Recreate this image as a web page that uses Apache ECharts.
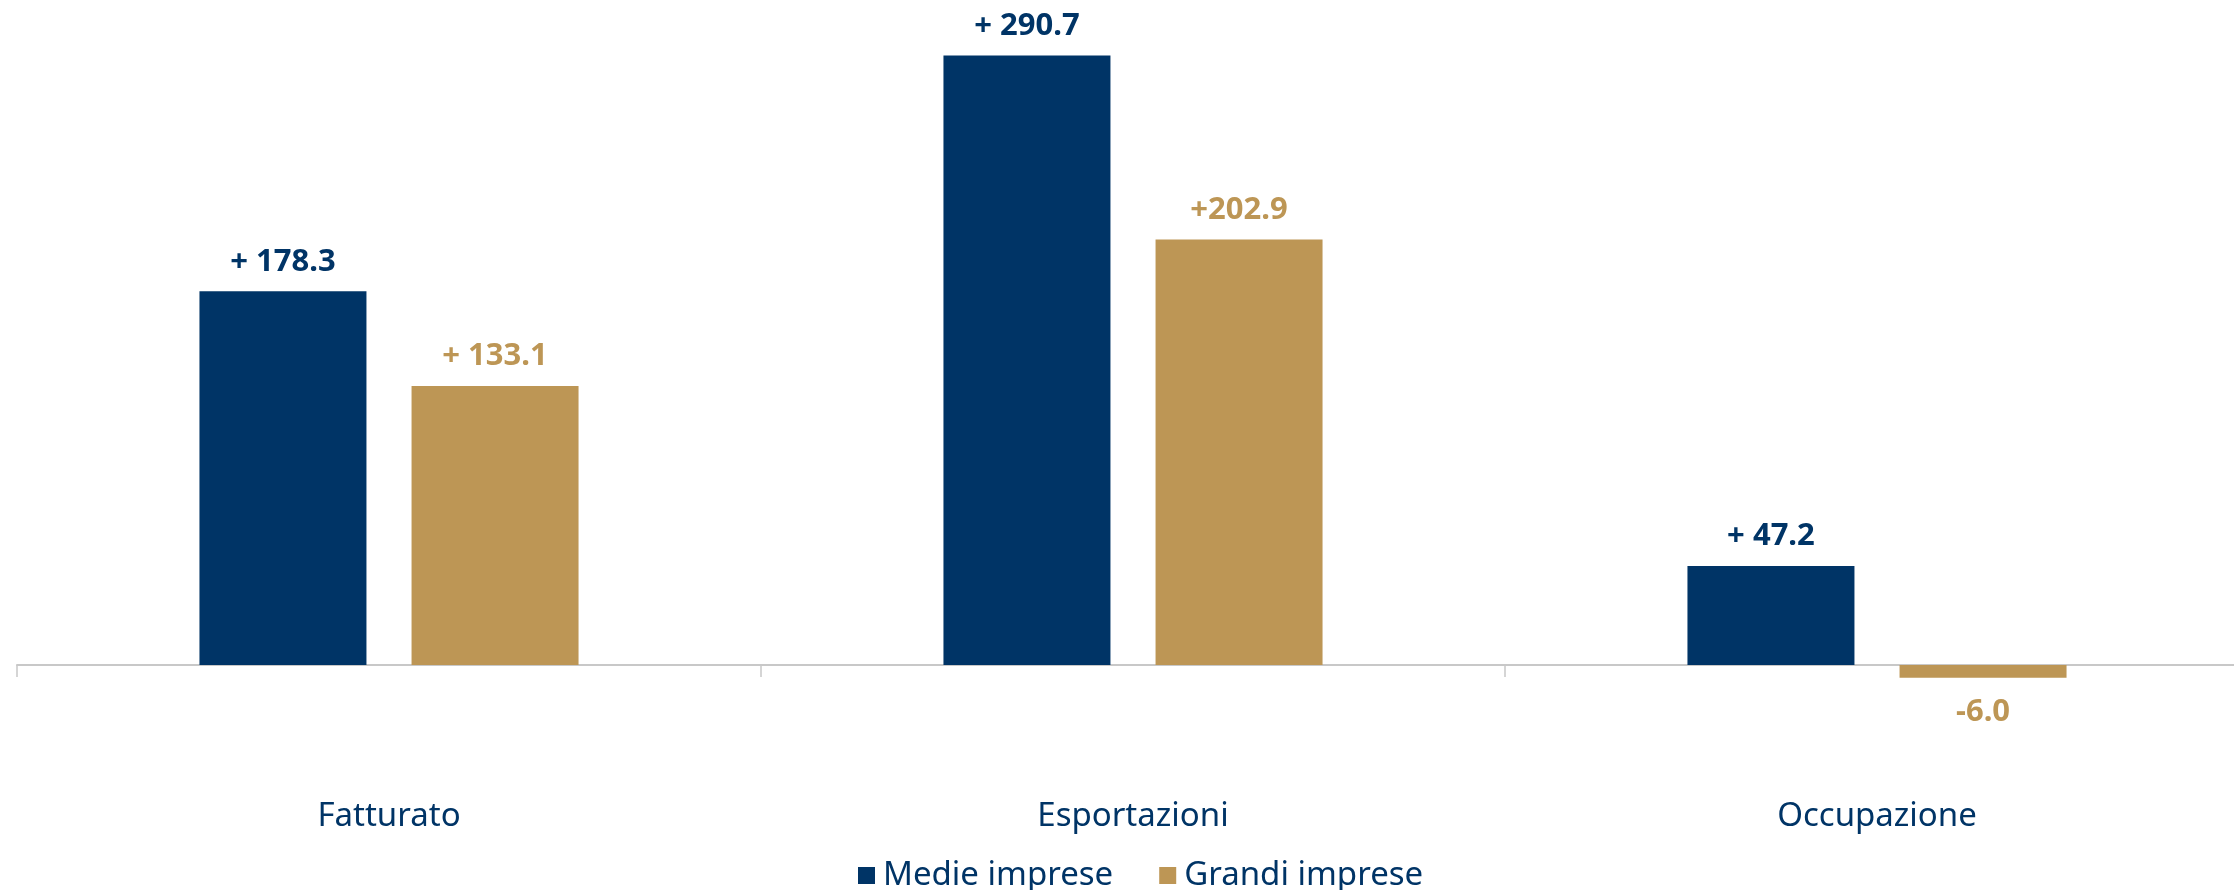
<!DOCTYPE html>
<html>
<head>
<meta charset="utf-8">
<script src="https://cdn.jsdelivr.net/npm/echarts@6/dist/echarts.min.js"></script>
<style>html,body{margin:0;padding:0;background:#fff}#c{width:2234px;height:890px}</style>
</head>
<body>
<div id="c"></div>
<script>
const categories = ['Fatturato', 'Esportazioni', 'Occupazione'];
const seriesNames = ['Medie imprese', 'Grandi imprese'];
const medieValues = [178.3, 290.7, 47.2];
const grandiValues = [133.1, 202.9, -6.0];
const medieLabels = ['+ 178.3', '+ 290.7', '+ 47.2'];
const grandiLabels = ['+ 133.1', '+202.9', '-6.0'];

const BLUE = '#003466';
const GOLD = '#BD9655';
const FONT = 'Noto Sans';

function buildData(values, labels) {
  return values.map((v, i) => ({
    value: v,
    label: v < 0
      ? { position: 'bottom', distance: 19, formatter: labels[i] }
      : { position: 'top', formatter: labels[i] }
  }));
}

const chart = echarts.init(document.getElementById('c'));
chart.setOption({
  backgroundColor: '#ffffff',
  animation: false,
  textStyle: { fontFamily: FONT },
  legend: {
    data: seriesNames,
    left: 853,
    top: 854,
    itemWidth: 17,
    itemHeight: 17,
    itemGap: 46,
    icon: 'rect',
    textStyle: { color: BLUE, fontSize: 33, fontFamily: FONT, padding: [0, 0, 0, 3] }
  },
  grid: { left: 17, right: -15, top: 36, height: 671, containLabel: false, outerBoundsMode: 'none' },
  xAxis: {
    type: 'category',
    data: categories,
    axisLine: { onZero: true, lineStyle: { color: '#C8C8C8', width: 2 } },
    axisTick: { show: true, length: 12, lineStyle: { color: '#C8C8C8', width: 1.5 } },
    axisLabel: { color: BLUE, fontSize: 33, fontFamily: FONT, margin: 93 },
    splitLine: { show: false }
  },
  yAxis: {
    type: 'value',
    min: -20,
    max: 300,
    show: false,
    splitLine: { show: false }
  },
  series: [
    {
      name: seriesNames[0],
      type: 'bar',
      barWidth: 167,
      barGap: '27%',
      itemStyle: { color: BLUE },
      label: { show: true, color: BLUE, fontWeight: 'bold', fontSize: 31, fontFamily: FONT, distance: 14 },
      data: buildData(medieValues, medieLabels)
    },
    {
      name: seriesNames[1],
      type: 'bar',
      barWidth: 167,
      barGap: '27%',
      itemStyle: { color: GOLD },
      label: { show: true, color: GOLD, fontWeight: 'bold', fontSize: 31, fontFamily: FONT, distance: 14 },
      data: buildData(grandiValues, grandiLabels)
    }
  ]
});
</script>
</body>
</html>
